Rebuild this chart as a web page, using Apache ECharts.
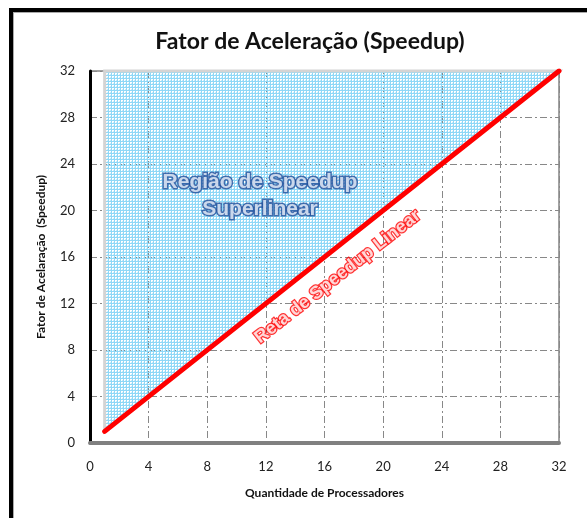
<!DOCTYPE html>
<html>
<head>
<meta charset="utf-8">
<script src="https://cdn.jsdelivr.net/npm/echarts@6/dist/echarts.min.js"></script>
<style>
  html, body { margin: 0; padding: 0; background: #fff; }
  .frame { position: absolute; left: 9px; top: 8px; width: 590px; height: 508px;
           border-left: 4px solid #000; border-top: 4px solid #000; border-bottom: 1px solid #ccc;
           box-shadow: inset 1px 1px 0 #aaa; }
  .charts { position: absolute; left: 0; top: 0; width: 587px; height: 518px; }
</style>
</head>
<body>
<div class="frame"></div>
<div class="charts"></div>
<script>
// eixos
var axisTicks = [0, 4, 8, 12, 16, 20, 24, 28, 32];
// reta de speedup linear
var linearX = [1, 32];
var linearY = [1, 32];
// regiao superlinear (poligono)
var regionX = [1, 1, 32];
var regionY = [1, 32, 32];
// rotulos
var regionLabel = {x: 11.6, y: 21.3, text: 'Região de Speedup\nSuperlinear'};
var linearLabel = {x: 16.9, y: 14.3, text: 'Reta de Speedup Linear'};

var charts = document.querySelector('.charts');
var myChart = echarts.init(charts, null, {renderer: 'canvas'});

// textura azul quadriculada
var pat = document.createElement('canvas');
pat.width = 3; pat.height = 3;
var ctx = pat.getContext('2d');
ctx.fillStyle = '#8fd8f7';
ctx.fillRect(0, 0, 3, 1);
ctx.fillRect(0, 0, 1, 3);
ctx.fillStyle = '#c4ebfb';
ctx.fillRect(2, 2, 1, 1);

var regionData = regionX.map(function (x, i) { return [x, regionY[i]]; });
var linearData = linearX.map(function (x, i) { return [x, linearY[i]]; });

var dashDot = [7, 3, 2, 3];
var tickFont = {fontFamily: 'Lato', fontSize: 13, color: '#222'};
var nameFont = {fontFamily: 'Lato', fontSize: 12, fontWeight: 'bold', color: '#111'};

var option = {
    animation: false,
    title: {
        text: 'Fator de Aceleração (Speedup)',
        left: 305, top: 25, textAlign: 'center',
        textStyle: {fontFamily: 'Lato', fontSize: 23, fontWeight: 'bold', color: '#111'}
    },
    grid: {left: 90, right: 28, top: 71, bottom: 75, show: true, borderColor: '#444', borderWidth: 1},
    xAxis: {
        type: 'value', min: 0, max: 32, interval: 4,
        name: 'Quantidade de Processadores', nameLocation: 'middle', nameGap: 44,
        nameTextStyle: nameFont,
        axisLine: {lineStyle: {color: '#808080', width: 4}},
        axisTick: {show: false},
        axisLabel: Object.assign({margin: 17}, tickFont),
        splitLine: {show: true, lineStyle: {color: '#888', type: dashDot, width: 1}}
    },
    yAxis: {
        type: 'value', min: 0, max: 32, interval: 4,
        name: 'Fator de Acelaração  (Speedup)', nameLocation: 'middle', nameGap: 43,
        nameTextStyle: nameFont,
        axisLine: {show: true, lineStyle: {color: '#000', width: 3}},
        axisTick: {show: false},
        axisLabel: Object.assign({margin: 15}, tickFont),
        splitLine: {show: true, lineStyle: {color: '#888', type: dashDot, width: 1}}
    },
    series: [
        {
            type: 'custom',
            data: regionData,
            z: 1,
            renderItem: function (params, api) {
                if (params.dataIndex !== 0) return;
                var pts = regionData.map(function (d) { return api.coord(d); });
                return {
                    type: 'polygon',
                    shape: {points: pts},
                    style: {fill: {image: pat, repeat: 'repeat'}, stroke: '#d4d4d4', lineWidth: 3}
                };
            }
        },
        {
            type: 'line',
            data: linearData,
            symbol: 'none',
            z: 3,
            lineStyle: {color: '#ff0000', width: 5, cap: 'round'}
        },
        {
            type: 'scatter',
            symbolSize: 0,
            z: 4,
            data: [[regionLabel.x, regionLabel.y]],
            label: {
                show: true, position: 'inside', formatter: regionLabel.text,
                fontFamily: 'Liberation Sans', fontStyle: 'normal', fontWeight: 'bold', fontSize: 21, lineHeight: 27,
                color: '#eef3fb', textBorderColor: '#1f4d9a', textBorderWidth: 3, align: 'center'
            }
        },
        {
            type: 'scatter',
            symbolSize: 0,
            z: 4,
            data: [[linearLabel.x, linearLabel.y]],
            label: {
                show: true, position: 'inside', formatter: linearLabel.text, rotate: 38,
                fontFamily: 'Liberation Sans', fontStyle: 'normal', fontWeight: 'bold', fontSize: 18,
                color: '#fff', textBorderColor: '#ff0000', textBorderWidth: 2.5
            }
        }
    ]
};

myChart.setOption(option);
</script>
</body>
</html>
